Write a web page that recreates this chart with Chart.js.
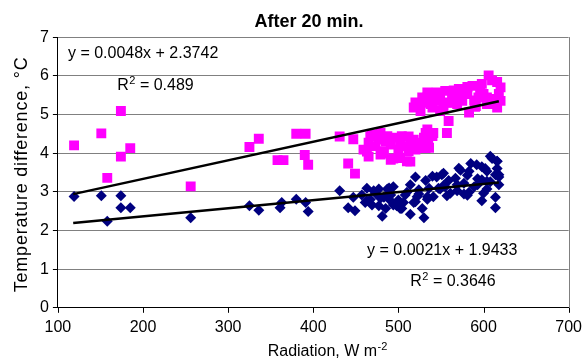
<!DOCTYPE html>
<html>
<head>
<meta charset="utf-8">
<script src="https://cdn.jsdelivr.net/npm/chart.js@4.4.1/dist/chart.umd.min.js"></script>
<style>
  html, body { margin: 0; padding: 0; background: #fff; }
  #wrap { width: 582px; height: 360px; }
</style>
</head>
<body>
<div id="wrap"><canvas id="grafico" width="582" height="360"></canvas></div>
<script>
// valores
const pinkX = [119, 151, 158, 174, 174, 185, 256, 325, 336, 358, 365, 380, 391, 390, 394,
    431, 447, 441, 449, 463, 467, 479, 485, 483, 465, 494, 502, 512, 514, 514, 522, 532, 541, 535, 557, 532,
    518, 530, 540, 549, 540, 553, 559, 565, 569, 581, 583, 589, 596, 606, 616, 618, 616, 604, 600, 526, 549, 573,
    534, 527, 575, 590, 610, 560, 545,
    459, 465, 469, 473, 477, 481, 487, 491, 496, 500, 504, 508, 512, 518, 520, 526, 530, 536, 540, 534, 502, 510, 491, 479,
    520, 528, 534, 538, 545, 547, 555, 557, 563, 571, 575, 581, 587, 591, 594, 598, 604, 610, 612, 620, 620];
const pinkY = [4.20, 4.51, 3.36, 5.09, 3.91, 4.13, 3.14, 4.16, 4.37, 3.82, 3.82, 4.50, 4.50, 3.95, 3.70,
    4.43, 4.36, 3.73, 3.47, 4.04, 4.43, 4.52, 4.30, 3.99, 3.91, 3.86, 4.30, 4.43, 4.22, 3.78, 4.13, 4.52, 4.52, 4.30, 4.52, 4.13,
    5.18, 5.36, 5.53, 5.53, 5.18, 5.14, 4.83, 5.62, 5.27, 5.71, 5.05, 5.36, 5.62, 6.01, 5.84, 5.53, 5.18, 5.27, 5.53, 5.09, 5.09, 5.44,
    5.44, 5.30, 5.60, 5.20, 5.40, 5.30, 5.35,
    4.09, 4.27, 4.48, 4.18, 4.35, 4.05, 4.44, 4.22, 4.40, 4.09, 4.44, 4.18, 4.05, 4.35, 4.09, 4.27, 4.40, 4.14, 4.44, 4.61, 3.87, 3.79, 3.83, 3.96,
    5.31, 5.44, 5.57, 5.27, 5.57, 5.35, 5.61, 5.31, 5.48, 5.66, 5.35, 5.53, 5.74, 5.22, 5.44, 5.79, 5.44, 5.88, 5.27, 5.70, 5.35];

const blueX = [119, 151, 158, 174, 174, 185, 256, 325, 336, 361, 363, 380, 391, 394,
    431, 441, 447, 449, 463, 471, 477, 481, 487, 489, 498, 510, 514, 520, 518, 530, 532, 534, 545, 549, 557, 559,
    569, 573, 581, 585, 583, 593, 598, 604, 610, 616, 618, 614, 614, 602, 553, 577, 524, 506, 483,
    553, 598, 608, 616, 618, 534, 581, 569, 593, 604, 618,
    461, 467, 477, 489, 494, 502, 522,
    457, 463, 469, 473, 479, 485, 491, 494, 500, 504, 508, 514, 520, 524, 528, 536, 540, 541, 547, 551, 555,
    561, 567, 571, 577, 583, 589, 592, 598, 604, 608, 614, 616, 600];
const blueY = [2.88, 2.90, 2.24, 2.90, 2.59, 2.59, 2.33, 2.64, 2.52, 2.59, 2.72, 2.81, 2.72, 2.49,
    3.03, 2.59, 2.86, 2.51, 2.77, 3.03, 2.64, 2.37, 3.07, 2.81, 2.64, 2.99, 2.42, 3.38, 2.72, 2.33, 3.29, 2.81, 3.38, 3.07, 2.90, 3.29,
    3.03, 3.56, 3.43, 3.73, 2.99, 3.34, 2.77, 3.07, 3.86, 3.60, 3.38, 2.86, 2.59, 3.60, 3.16, 2.94, 2.94, 2.72, 2.86,
    3.48, 3.65, 3.92, 3.79, 3.44, 2.87, 2.91, 3.18, 3.18, 3.27, 3.18,
    2.72, 2.80, 3.07, 3.10, 2.66, 2.57, 2.87,
    2.92, 3.09, 2.66, 2.96, 2.83, 2.57, 2.92, 3.13, 2.79, 2.57, 2.92, 3.18, 2.74, 3.05, 2.57, 3.09, 3.40, 2.87, 3.09, 3.44, 3.13,
    2.96, 3.35, 3.61, 3.22, 3.53, 3.13, 3.70, 3.31, 3.53, 3.26, 3.44, 3.79, 2.96];

// linhas de tendência (extremos)
const trendX = [118, 618];
const pinkTrendY = [2.94, 5.34];
const blueTrendY = [2.19, 3.24];

const xTicks = [100, 200, 300, 400, 500, 600, 700];
const yTicks = [0, 1, 2, 3, 4, 5, 6, 7];

const pinkEq = "y = 0.0048x + 2.3742";
const pinkR2 = "0.489";
const blueEq = "y = 0.0021x + 1.9433";
const blueR2 = "0.3646";

const FONTE = "'Liberation Sans', Arial, sans-serif";

function pares(xs, ys) {
    return xs.map((x, i) => ({ x: x, y: ys[i] }));
}

// textos das equações, em coordenadas do gráfico
const rotulos = [
    { texto: pinkEq, x: 111.8, y: 6.45 },
    { r2: pinkR2, x: 169.8, y: 5.63 },
    { texto: blueEq, x: 463.2, y: 1.37 },
    { r2: blueR2, x: 514, y: 0.57 }
];

function textoComExpoente(c, base, exp, resto, x, y) {
    c.font = "16px " + FONTE;
    c.fillText(base, x, y);
    x += c.measureText(base).width;
    c.font = "11px " + FONTE;
    c.fillText(exp, x + 0.5, y - 6);
    x += c.measureText(exp).width + 0.5;
    c.font = "16px " + FONTE;
    if (resto) c.fillText(resto, x, y);
}

const pluginTextos = {
    id: "textos",
    afterDraw(chart) {
        const c = chart.ctx;
        const sx = chart.scales.x, sy = chart.scales.y;
        const area = chart.chartArea;
        c.save();
        // borda direita da área do gráfico
        c.strokeStyle = "#808080";
        c.lineWidth = 1;
        c.beginPath();
        c.moveTo(Math.round(area.right) + 0.5, area.top);
        c.lineTo(Math.round(area.right) + 0.5, area.bottom);
        c.stroke();

        // marcas do eixo x
        c.strokeStyle = "#000";
        c.beginPath();
        xTicks.forEach(v => {
            const px = Math.round(sx.getPixelForValue(v)) + 0.5;
            c.moveTo(px, area.bottom);
            c.lineTo(px, area.bottom + 5);
        });
        c.stroke();

        c.fillStyle = "#000";
        c.textBaseline = "alphabetic";
        c.textAlign = "left";
        rotulos.forEach(r => {
            const px = sx.getPixelForValue(r.x);
            const py = sy.getPixelForValue(r.y);
            if (r.texto) {
                c.font = "16px " + FONTE;
                c.fillText(r.texto, px, py);
            } else {
                textoComExpoente(c, "R", "2", " = " + r.r2, px, py);
            }
        });

        // título do eixo x
        c.font = "16px " + FONTE;
        const w1 = c.measureText("Radiation, W m").width;
        c.font = "11px " + FONTE;
        const w2 = c.measureText("-2").width;
        const cx = (area.left + area.right) / 2 + 14;
        textoComExpoente(c, "Radiation, W m", "-2", "", cx - (w1 + w2) / 2, 356);

        // título do eixo y
        c.translate(22, (area.top + area.bottom) / 2 + 2);
        c.rotate(-Math.PI / 2);
        c.font = "18px " + FONTE;
        c.letterSpacing = "0.8px";
        c.textAlign = "center";
        c.textBaseline = "middle";
        c.fillText("Temperature difference, °C", 0, 0);
        c.restore();
    }
};

Chart.defaults.font.family = FONTE;
Chart.defaults.font.size = 16;
Chart.defaults.color = "#000";

const ctx = document.getElementById("grafico").getContext("2d");
new Chart(ctx, {
    type: "scatter",
    data: {
        datasets: [
            {
                label: "trend pink",
                data: pares(trendX, pinkTrendY),
                showLine: true,
                borderColor: "#000",
                borderWidth: 2.5,
                pointRadius: 0,
                order: 0
            },
            {
                label: "trend blue",
                data: pares(trendX, blueTrendY),
                showLine: true,
                borderColor: "#000",
                borderWidth: 2.5,
                pointRadius: 0,
                order: 0
            },
            {
                label: "pink",
                data: pares(pinkX, pinkY),
                pointStyle: "rect",
                pointRadius: 7,
                backgroundColor: "#FF00FF",
                borderWidth: 0,
                order: 2
            },
            {
                label: "blue",
                data: pares(blueX, blueY),
                pointStyle: "rectRot",
                pointRadius: 5.5,
                backgroundColor: "#000080",
                borderWidth: 0,
                order: 1
            }
        ]
    },
    options: {
        responsive: false,
        animation: false,
        layout: { padding: { left: 36, right: 0, top: 0, bottom: 23 } },
        plugins: {
            legend: { display: false },
            tooltip: { enabled: false },
            title: {
                display: true,
                text: "After 20 min.",
                font: { size: 18, weight: "bold" },
                padding: { top: 11, bottom: 4.5 }
            }
        },
        scales: {
            x: {
                type: "linear",
                min: 100,
                max: 700,
                afterBuildTicks: s => { s.ticks = xTicks.map(v => ({ value: v })); },
                ticks: { padding: 0 },
                grid: { drawOnChartArea: false, drawTicks: true, tickLength: 10, tickColor: "rgba(0,0,0,0)" },
                border: { color: "#000", width: 1 }
            },
            y: {
                min: 0,
                max: 7,
                afterBuildTicks: s => { s.ticks = yTicks.map(v => ({ value: v })); },
                ticks: { padding: 4 },
                grid: { color: "#808080", tickColor: "#000", tickLength: 5 },
                border: { color: "#000", width: 1 }
            }
        }
    },
    plugins: [pluginTextos]
});
</script>
</body>
</html>
